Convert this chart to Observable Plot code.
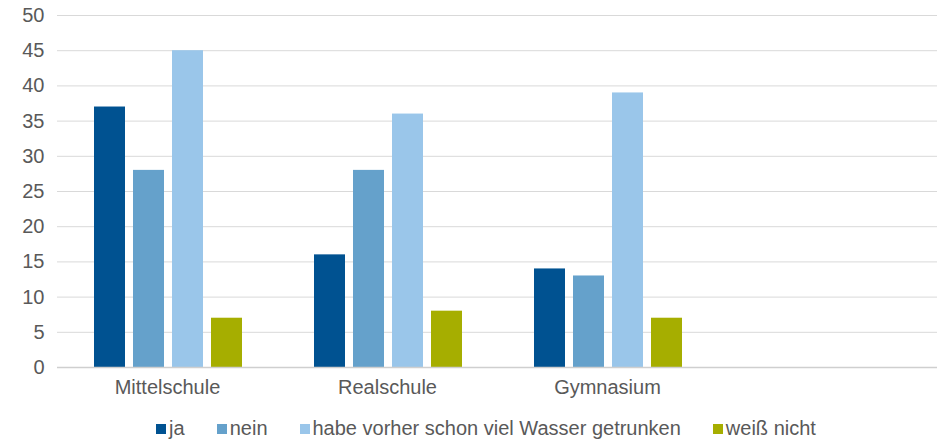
<!DOCTYPE html>
<html><head><meta charset="utf-8">
<script src="https://cdn.jsdelivr.net/npm/d3@7"></script>
<script src="https://cdn.jsdelivr.net/npm/@observablehq/plot@0.6"></script>
<style>
body{margin:0;background:#fff;font-family:"Liberation Sans",Arial,sans-serif;}
#legend{display:flex;justify-content:center;gap:32px;font-size:20px;color:#595959;height:37px;align-items:center;padding-left:32px;}
#legend span.sw{display:inline-block;width:10px;height:10px;margin-right:3px;vertical-align:middle;position:relative;top:-1px;}
</style></head><body>
<div id="chart"></div>
<div id="legend"></div>
<script>
const schools = ["Mittelschule", "Realschule", "Gymnasium", " "];
const series = ["ja", "nein", "habe vorher schon viel Wasser getrunken", "weiß nicht"];
const ja = [37, 16, 14];
const nein = [28, 28, 13];
const habe = [45, 36, 39];
const weiss = [7, 8, 7];
const colors = ["#005291", "#65a1cb", "#9ac6ea", "#a6ae00"];
const yTicks = [0, 5, 10, 15, 20, 25, 30, 35, 40, 45, 50];

const seriesValues = [ja, nein, habe, weiss];
const data = [];
schools.slice(0, 3).forEach((s, i) => {
  series.forEach((k, j) => data.push({school: s, series: k, value: seriesValues[j][i]}));
});

const W = 940, H = 410;
const chart = Plot.plot({
  width: W, height: H,
  marginLeft: 57, marginRight: 3, marginTop: 15, marginBottom: 43,
  style: {fontFamily: "Liberation Sans, Arial, sans-serif", fontSize: "20px", color: "#595959"},
  fx: {domain: schools, padding: 0, label: null, tickSize: 0, tickPadding: 12, axis: "bottom"},
  x: {domain: series, paddingInner: 0.2, paddingOuter: 0.9, axis: null},
  y: {domain: [0, 50], ticks: yTicks, tickSize: 0, tickPadding: 13, label: null, tickFormat: d => String(d)},
  color: {domain: series, range: colors},
  marks: [
    Plot.ruleY(yTicks.filter(d => d > 0), {stroke: "#d9d9d9", strokeWidth: 1, strokeOpacity: 1}),
    Plot.text([{school: " "}], {fx: "school", text: () => "", frameAnchor: "middle"}),
    Plot.barY(data, {fx: "school", x: "series", y: "value", fill: "series", dx: 1}),
    Plot.ruleY([0], {stroke: "#cfcfcf", strokeWidth: 1.5})
  ]
});
document.getElementById("chart").appendChild(chart);

const leg = document.getElementById("legend");
series.forEach((s, i) => {
  const item = document.createElement("div");
  item.innerHTML = `<span class="sw" style="background:${colors[i]}"></span>${s}`;
  leg.appendChild(item);
});
</script>
</body></html>
